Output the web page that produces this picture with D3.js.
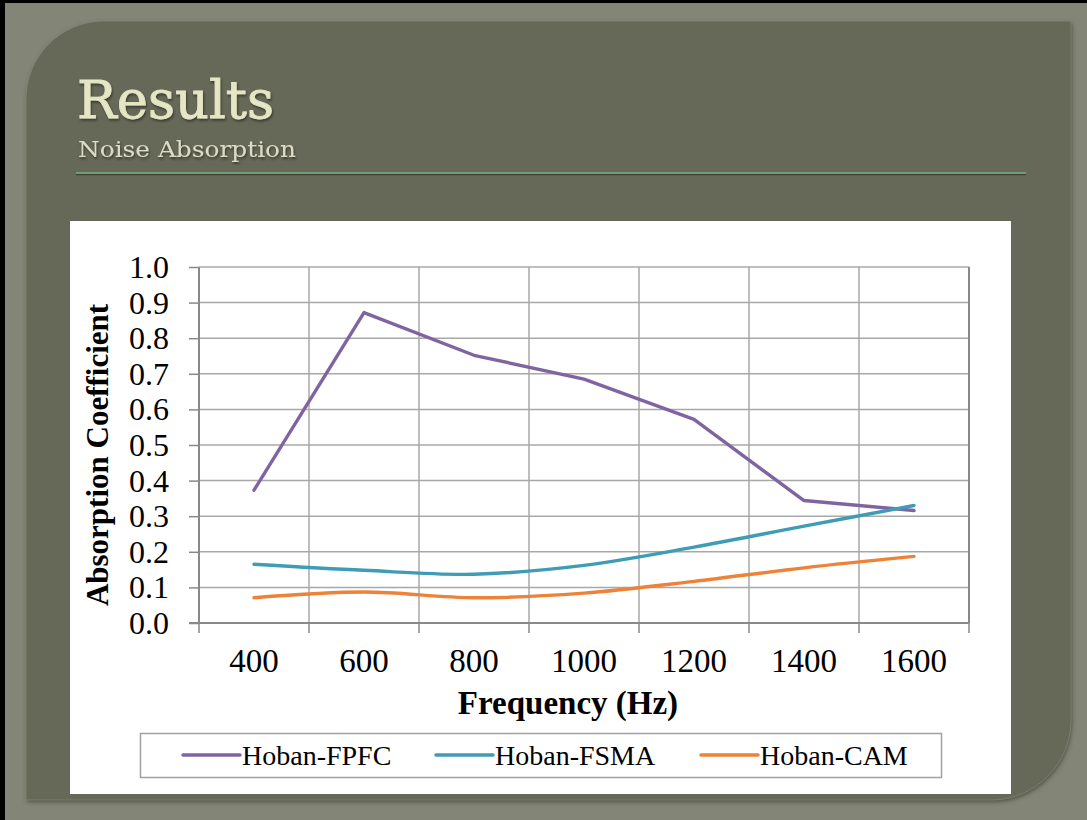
<!DOCTYPE html>
<html>
<head>
<meta charset="utf-8">
<script src="https://cdn.jsdelivr.net/npm/d3@7"></script>
<style>
  html, body { margin: 0; padding: 0; background: #838676; }
  svg { display: block; }
</style>
</head>
<body>
<svg id="chart" width="1087" height="820"></svg>
<script>
// ---------- data ----------
const categories = ["400", "600", "800", "1000", "1200", "1400", "1600"];
const fpfc = [0.373, 0.872, 0.752, 0.685, 0.572, 0.344, 0.316];
const fsma = [0.165, 0.148, 0.137, 0.162, 0.213, 0.272, 0.330];
const cam  = [0.071, 0.087, 0.071, 0.084, 0.117, 0.155, 0.187];
const seriesNames = ["Hoban-FPFC", "Hoban-FSMA", "Hoban-CAM"];
const seriesColors = ["#8064a2", "#3f9cb7", "#ec8338"];
const yTicks = [0, 0.1, 0.2, 0.3, 0.4, 0.5, 0.6, 0.7, 0.8, 0.9, 1.0];
const titleText = "Results";
const subtitleText = "Noise Absorption";
const xTitle = "Frequency (Hz)";
const yTitle = "Absorption Coefficient";

const series = [
  { name: seriesNames[0], values: fpfc, color: seriesColors[0], smooth: false },
  { name: seriesNames[1], values: fsma, color: seriesColors[1], smooth: true },
  { name: seriesNames[2], values: cam,  color: seriesColors[2], smooth: true }
];

const svg = d3.select("#chart");
const defs = svg.append("defs");

// ---------- slide background ----------
svg.append("rect").attr("x", 0).attr("y", 0).attr("width", 1087).attr("height", 820).attr("fill", "#838676");
svg.append("rect").attr("x", 0).attr("y", 0).attr("width", 1087).attr("height", 3).attr("fill", "#000");
svg.append("rect").attr("x", 0).attr("y", 0).attr("width", 5).attr("height", 820).attr("fill", "#000");

const px0 = 26, py0 = 21, px1 = 1071, py1 = 800, r1 = 78, r2 = 80;
const panelPath = `M${px0 + r1},${py0} L${px1},${py0} L${px1},${py1 - r2} A${r2},${r2} 0 0 1 ${px1 - r2},${py1} L${px0},${py1} L${px0},${py0 + r1} A${r1},${r1} 0 0 1 ${px0 + r1},${py0} Z`;

const shadow = defs.append("filter").attr("id", "pshadow").attr("x", "-5%").attr("y", "-5%").attr("width", "110%").attr("height", "110%");
shadow.append("feDropShadow").attr("dx", 1).attr("dy", 2).attr("stdDeviation", 2).attr("flood-color", "#3a3b32").attr("flood-opacity", 0.7);

svg.append("path").attr("d", panelPath).attr("fill", "#666759").attr("filter", "url(#pshadow)");
svg.append("path").attr("d", panelPath).attr("fill", "none").attr("stroke", "#8a8d7c").attr("stroke-width", 1).attr("opacity", 0.6);

// title
const tshadow = defs.append("filter").attr("id", "tshadow");
tshadow.append("feDropShadow").attr("dx", 1).attr("dy", 2).attr("stdDeviation", 1.2).attr("flood-color", "#2e2f28").attr("flood-opacity", 0.8);

svg.append("text").attr("x", 77).attr("y", 118)
  .attr("font-family", "'DejaVu Serif', serif").attr("font-size", 52)
  .attr("fill", "#e4e6c4").attr("stroke", "#e4e6c4").attr("stroke-width", 0.8)
  .attr("filter", "url(#tshadow)")
  .attr("textLength", 197).attr("lengthAdjust", "spacingAndGlyphs")
  .text(titleText);
svg.append("text").attr("x", 78).attr("y", 157)
  .attr("font-family", "'DejaVu Serif', serif").attr("font-size", 23)
  .attr("fill", "#dcdcc4").attr("filter", "url(#tshadow)")
  .attr("textLength", 218).attr("lengthAdjust", "spacingAndGlyphs")
  .text(subtitleText);
svg.append("line").attr("x1", 76).attr("x2", 1026).attr("y1", 174.5).attr("y2", 174.5)
  .attr("stroke", "#3e4036").attr("stroke-width", 1.5);
svg.append("line").attr("x1", 76).attr("x2", 1026).attr("y1", 173).attr("y2", 173)
  .attr("stroke", "#6f9c70").attr("stroke-width", 2);

// ---------- chart area ----------
svg.append("rect").attr("x", 70).attr("y", 221).attr("width", 941).attr("height", 573).attr("fill", "#ffffff");

const plotL = 199, plotR = 969, plotT = 267, plotB = 623;
const x = d3.scaleBand().domain(categories).range([plotL, plotR]).padding(0);
const y = d3.scaleLinear().domain([0, 1]).range([plotB, plotT]);
const bw = x.bandwidth();
const boundaries = categories.map(c => x(c)).concat([x(categories[categories.length - 1]) + bw]);

const gridColor = "#a8a8a8", axisColor = "#898989";
const g = svg.append("g");

// horizontal gridlines
g.selectAll(".hgrid").data(yTicks.filter(t => t > 0)).join("line")
  .attr("x1", plotL).attr("x2", plotR)
  .attr("y1", d => y(d)).attr("y2", d => y(d))
  .attr("stroke", gridColor).attr("stroke-width", 1.5);
// vertical gridlines
g.selectAll(".vgrid").data(boundaries.slice(1, -1)).join("line")
  .attr("x1", d => d).attr("x2", d => d)
  .attr("y1", plotT).attr("y2", plotB)
  .attr("stroke", gridColor).attr("stroke-width", 1.5);
// right border
g.append("line").attr("x1", plotR).attr("x2", plotR).attr("y1", plotT).attr("y2", plotB)
  .attr("stroke", axisColor).attr("stroke-width", 2);

// y axis
const yAxis = d3.axisLeft(y).tickValues(yTicks).tickFormat(d3.format(".1f")).tickSize(10).tickPadding(20);
const yg = svg.append("g").attr("transform", `translate(${plotL},0)`).call(yAxis);
yg.select(".domain").attr("stroke", axisColor).attr("stroke-width", 2).attr("d", `M0,${plotT}V${plotB}`);
yg.selectAll(".tick line").attr("stroke", axisColor).attr("stroke-width", 1.5);
yg.selectAll(".tick text").attr("font-family", "'Liberation Serif', 'Times New Roman', serif")
  .attr("font-size", 32).attr("fill", "#000").attr("dy", "0.33em");

// x axis (categories, ticks at boundaries)
const xg = svg.append("g").attr("transform", `translate(0,${plotB})`);
xg.append("line").attr("x1", plotL - 10).attr("x2", plotR).attr("y1", 0).attr("y2", 0)
  .attr("stroke", axisColor).attr("stroke-width", 2);
xg.selectAll(".xt").data(boundaries).join("line")
  .attr("x1", d => d).attr("x2", d => d).attr("y1", 0).attr("y2", 10)
  .attr("stroke", axisColor).attr("stroke-width", 1.5);
xg.selectAll(".xl").data(categories).join("text")
  .attr("x", d => x(d) + bw / 2).attr("y", 49)
  .attr("text-anchor", "middle")
  .attr("font-family", "'Liberation Serif', 'Times New Roman', serif")
  .attr("font-size", 33).attr("fill", "#000")
  .text(d => d);

// axis titles
svg.append("text").attr("x", 568).attr("y", 714).attr("text-anchor", "middle")
  .attr("font-family", "'Liberation Serif', 'Times New Roman', serif").attr("font-weight", "bold")
  .attr("font-size", 33).attr("fill", "#000").text(xTitle);
svg.append("text").attr("transform", "translate(108,455) rotate(-90)").attr("text-anchor", "middle")
  .attr("font-family", "'Liberation Serif', 'Times New Roman', serif").attr("font-weight", "bold")
  .attr("font-size", 31).attr("fill", "#000").text(yTitle);

// ---------- lines ----------
series.forEach(s => {
  const line = d3.line()
    .x((d, i) => x(categories[i]) + bw / 2)
    .y(d => y(d))
    .curve(s.smooth ? d3.curveCatmullRom.alpha(0.5) : d3.curveLinear);
  svg.append("path").datum(s.values)
    .attr("d", line)
    .attr("fill", "none").attr("stroke", s.color).attr("stroke-width", 3.4)
    .attr("stroke-linejoin", "round").attr("stroke-linecap", "round");
});

// ---------- legend ----------
svg.append("rect").attr("x", 140.5).attr("y", 733.5).attr("width", 801).attr("height", 44)
  .attr("fill", "#fff").attr("stroke", "#a0a0a0").attr("stroke-width", 1.5);
const legendX = [183, 436, 701];
series.forEach((s, i) => {
  svg.append("line").attr("x1", legendX[i]).attr("x2", legendX[i] + 57).attr("y1", 755).attr("y2", 755)
    .attr("stroke", s.color).attr("stroke-width", 3.5).attr("stroke-linecap", "round");
  svg.append("text").attr("x", legendX[i] + 59).attr("y", 765)
    .attr("font-family", "'Liberation Serif', 'Times New Roman', serif")
    .attr("font-size", 28).attr("fill", "#000").text(s.name);
});
</script>
</body>
</html>
